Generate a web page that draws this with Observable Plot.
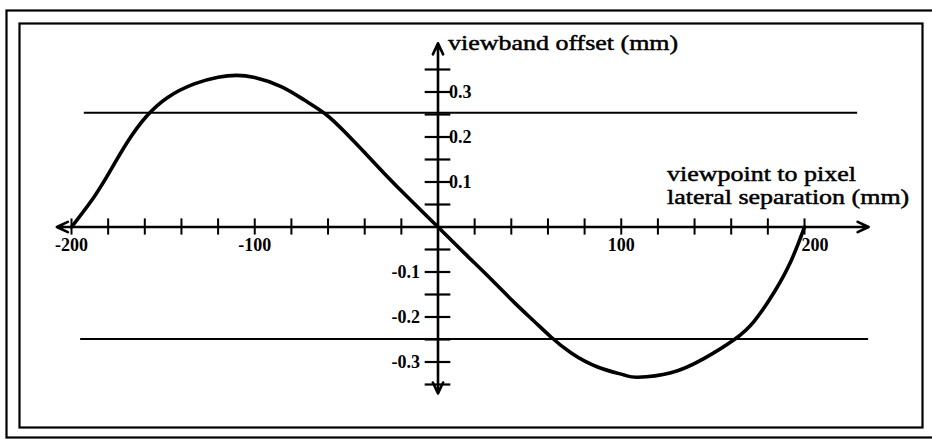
<!DOCTYPE html>
<html>
<head>
<meta charset="utf-8">
<script src="https://cdn.jsdelivr.net/npm/d3@7"></script>
<script src="https://cdn.jsdelivr.net/npm/@observablehq/plot@0.6"></script>
<style>
  body { margin: 0; background: #fff; }
  svg { display: block; }
</style>
</head>
<body>
<div id="chart"></div>
<script>
// Viewband offset (mm) against viewpoint-to-pixel lateral separation (mm)
const separation = [-200, -187.5, -178.4, -169.3, -159.3, -147.5, -133, -120, -110, -100, -85.6, -72.9, -61.1, -51.1, -40.2, -29.3, -16.5, 0,
                    14.4, 29, 41.7, 52.6, 61.8, 72.7, 87.1, 101.6, 109, 127.1, 145.3, 161.7, 172.6, 183.6, 192.7, 200];
const offset = [0, 0.068, 0.128, 0.19, 0.245, 0.288, 0.318, 0.333, 0.337, 0.332, 0.312, 0.282, 0.25, 0.212, 0.166, 0.119, 0.066, 0,
                -0.058, -0.116, -0.168, -0.21, -0.245, -0.28, -0.311, -0.329, -0.334, -0.324, -0.292, -0.25, -0.209, -0.144, -0.075, 0];

// Tolerance levels drawn as horizontal lines, with their horizontal extents
const limitLevel = [0.254, -0.249];
const limitFrom = [-193, -195];
const limitTo = [229, 235];

// Axis extents (arrow tips)
const xAxisEnds = [-208, 235];
const yAxisEnds = [-0.37, 0.408];

// Tick marks and labels
const xTicks = d3.range(-200, 201, 20).filter(d => d !== 0);
const yTicks = d3.range(-7, 8).filter(d => d !== 0).map(d => d * 0.05);
const xLabels = [-200, -100, 100];
const xLabelsEnd = [200];
const yLabelsUp = [0.1, 0.2, 0.3];
const yLabelsDown = [-0.1, -0.2, -0.3];

const yTitle = ["viewband offset (mm)"];
const xTitle = ["viewpoint to pixel", "lateral separation (mm)"];

const curve = separation.map((x, i) => ({x, y: offset[i]}));
const limits = limitLevel.map((y, i) => ({y, x1: limitFrom[i], x2: limitTo[i]}));
const axes = [
  {x1: 0, y1: 0, x2: xAxisEnds[1], y2: 0},
  {x1: 0, y1: 0, x2: xAxisEnds[0], y2: 0},
  {x1: 0, y1: 0, x2: 0, y2: yAxisEnds[1]},
  {x1: 0, y1: 0, x2: 0, y2: yAxisEnds[0]}
];
const fmt = d => String(d);

const chart = Plot.plot({
  width: 932,
  height: 439,
  marginLeft: 19,
  marginTop: 23,
  marginRight: 10,
  marginBottom: 12,
  style: {fontFamily: "'Liberation Serif', 'DejaVu Serif', serif", color: "#000", background: "#fff"},
  x: {domain: [-200, 200], range: [71, 804], axis: null},
  y: {domain: [-0.3, 0.3], range: [361.5, 91.5], axis: null},
  marks: [
    Plot.frame({stroke: "#000", strokeWidth: 2.2}),
    Plot.frame({stroke: "#000", strokeWidth: 2.2, insetLeft: -13, insetTop: -13, insetRight: -13, insetBottom: -10}),
    Plot.ruleY(limits, {y: "y", x1: "x1", x2: "x2", stroke: "#000", strokeWidth: 2}),
    Plot.arrow(axes, {x1: "x1", y1: "y1", x2: "x2", y2: "y2", stroke: "#000", strokeWidth: 2.6, headLength: 7, headAngle: 50}),
    Plot.ruleX(xTicks, {x: d => d, y1: -0.018, y2: 0.018, stroke: "#000", strokeWidth: 2}),
    Plot.ruleY(yTicks, {y: d => d, x1: -7, x2: 7, stroke: "#000", strokeWidth: 2.2}),
    Plot.line(curve, {x: "x", y: "y", curve: "natural", stroke: "#000", strokeWidth: 3.6}),
    Plot.text(xLabels, {x: d => d, y: 0, text: fmt, dy: 18, fontSize: 18, fontWeight: "bold"}),
    Plot.text(xLabelsEnd, {x: d => d, y: 0, text: fmt, dy: 18, dx: -3, textAnchor: "start", fontSize: 18, fontWeight: "bold"}),
    Plot.text(yLabelsUp, {x: 0, y: d => d, text: fmt, dx: 11, textAnchor: "start", fontSize: 18, fontWeight: "bold"}),
    Plot.text(yLabelsDown, {x: 0, y: d => d, text: fmt, dx: -18, textAnchor: "end", fontSize: 18, fontWeight: "bold"}),
    Plot.text(yTitle, {x: 0, y: yAxisEnds[1], text: d => d, dx: 10, dy: 0, textAnchor: "start", fontSize: 22, fill: "#000", stroke: "#000", strokeWidth: 0.5, className: "stretch"}),
    Plot.text(xTitle.slice(0, 1), {x: 125, y: 0, text: d => d, dy: -53.5, textAnchor: "start", fontSize: 22, fill: "#000", stroke: "#000", strokeWidth: 0.5, className: "stretch"}),
    Plot.text(xTitle.slice(1), {x: 125, y: 0, text: d => d, dy: -30.5, textAnchor: "start", fontSize: 22, fill: "#000", stroke: "#000", strokeWidth: 0.5, className: "stretch"})
  ]
});

document.getElementById("chart").appendChild(chart);

// The axis titles are set in a wide serif: widen the glyphs horizontally.
chart.querySelectorAll("g.stretch text").forEach(el => {
  const w = el.getComputedTextLength();
  el.setAttribute("textLength", (w * 1.18).toFixed(1));
  el.setAttribute("lengthAdjust", "spacingAndGlyphs");
});
</script>
</body>
</html>
